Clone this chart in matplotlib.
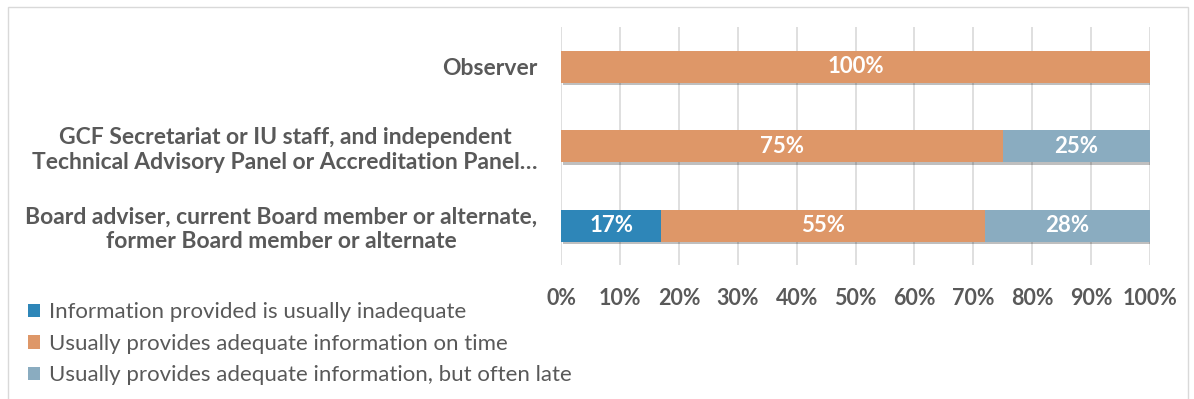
import matplotlib.pyplot as plt
import matplotlib.patheffects as pe
from matplotlib.patches import Rectangle
from matplotlib.ticker import PercentFormatter

categories = [
    "Board adviser, current Board member or alternate,\nformer Board member or alternate",
    "GCF Secretariat or IU staff, and independent\nTechnical Advisory Panel or Accreditation Panel\u2026",
    "Observer",
]
series_names = [
    "Information provided is usually inadequate",
    "Usually provides adequate information on time",
    "Usually provides adequate information, but often late",
]
inadequate = [17, 0, 0]
on_time = [55, 75, 100]
late = [28, 25, 0]
colors = ["#2E86B8", "#DE9768", "#8AACC0"]
TEXT = "#595959"

plt.rcParams["font.family"] = ["Lato", "DejaVu Sans"]

fig = plt.figure(figsize=(11.94, 3.99), dpi=100)
ax = fig.add_axes([0.470, 0.335, 0.493, 0.597])

# chart frame
fig.patches.append(Rectangle((8 / 1194, -0.05), 1180 / 1194, 1.05 - 7 / 399,
                             transform=fig.transFigure, fill=False,
                             edgecolor="#D9D9D9", linewidth=1))

shadow = [pe.SimplePatchShadow(offset=(1.5, -2), shadow_rgbFace="#000000", alpha=0.25), pe.Normal()]
left = [0] * len(categories)
for name, vals, col in zip(series_names, [inadequate, on_time, late], colors):
    bars = ax.barh(range(len(categories)), vals, left=left, height=0.4,
                   color=col, label=name, zorder=3)
    for b in bars:
        b.set_path_effects(shadow)
    for i, v in enumerate(vals):
        if v > 0:
            ax.text(left[i] + v / 2, i, f"{v}%", ha="center", va="center",
                    color="white", fontsize=16, fontweight="bold", zorder=4)
    left = [l + v for l, v in zip(left, vals)]

ax.set_xlim(0, 100)
ax.set_ylim(-0.5, 2.5)
ax.set_xticks(range(0, 101, 10))
ax.xaxis.set_major_formatter(PercentFormatter(decimals=0))
ax.set_yticks(range(len(categories)))
ax.set_yticklabels(categories, multialignment="center")
ax.tick_params(axis="y", length=0, pad=17, labelsize=16.5, labelcolor=TEXT)
ax.tick_params(axis="x", length=0, pad=16, labelsize=15.5, labelcolor=TEXT)
for lab in ax.get_xticklabels() + ax.get_yticklabels():
    lab.set_fontweight("bold")
ax.grid(axis="x", color="#D9D9D9", linewidth=1.2, zorder=0)
for s in ax.spines.values():
    s.set_visible(False)

leg = fig.legend(loc="upper left", bbox_to_anchor=(0.016, 0.265), frameon=False,
                 fontsize=16, labelcolor=TEXT, handlelength=0.55, handleheight=0.55,
                 handletextpad=0.4, labelspacing=0.52, borderaxespad=0)
for h in leg.legend_handles:
    h.set_path_effects([])

fig.savefig("out.png", dpi=100)
